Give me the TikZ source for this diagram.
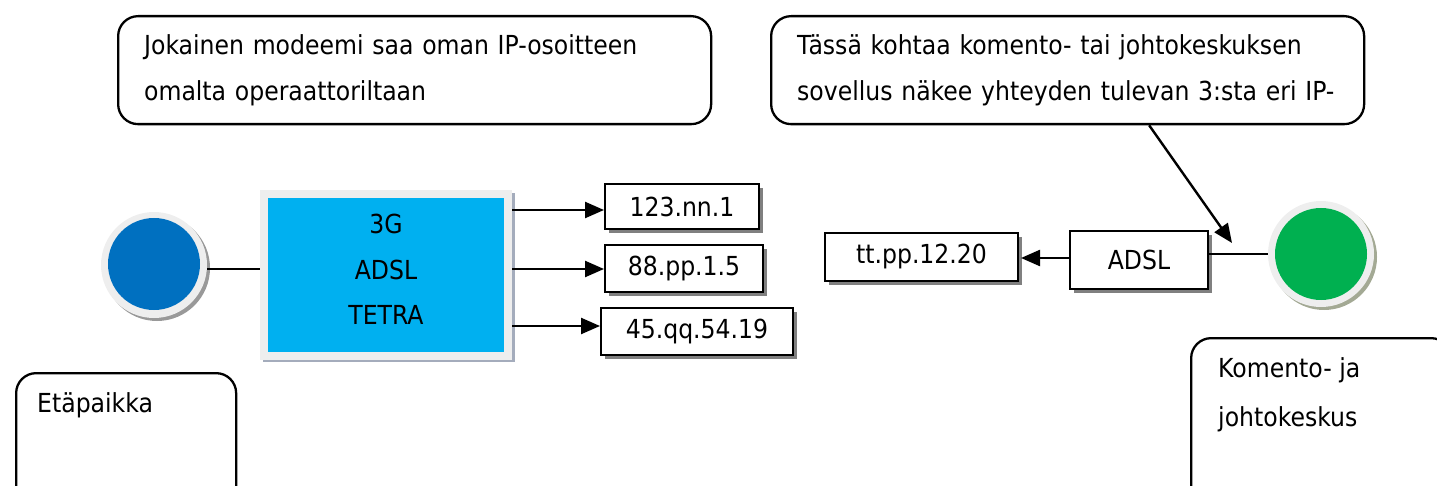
\documentclass[tikz,border=0pt]{standalone}
\usepackage{fontspec}
\setmainfont{DejaVu Sans Condensed}
\usetikzlibrary{arrows.meta,positioning}

\definecolor{siteblue}{HTML}{0070C0}
\definecolor{modemblue}{HTML}{00B0F0}
\definecolor{hqgreen}{HTML}{00B050}
\definecolor{ringgray}{HTML}{EEEEEE}
\definecolor{shadowgray}{HTML}{808080}
\definecolor{frameshadow}{HTML}{A4ACBC}
\definecolor{greenshadow}{HTML}{A3A994}

\tikzset{
  txt/.style={font=\fontsize{26.2}{46}\selectfont},
  callout/.style={draw, line width=2.3pt, rounded corners=20pt, fill=white,
    txt, align=left, inner xsep=26pt, inner ysep=0pt, anchor=north west},
  ipbox/.style={draw, line width=2pt, fill=white, txt, inner sep=0pt,
    anchor=north west},
  boxshadow/.style={fill=shadowgray, draw=none, anchor=north west, inner sep=0pt},
  arr/.style={line width=2.4pt, -{Triangle[length=19pt,width=16pt]}},
  wire/.style={line width=1.8pt},
  plain/.style={txt, inner sep=0pt},
}

\begin{document}
\begin{tikzpicture}[x=1pt,y=-1pt]
\useasboundingbox (0,0) rectangle (1437,486);
\clip (0,0) rectangle (1437,486);

% --- callouts at the top ---
\node[callout, text width=541pt, minimum width=593pt, minimum height=108pt]
  (callA) at (117,15) {Jokainen modeemi saa oman IP-osoitteen\\omalta operaattoriltaan};
\node[callout, text width=541pt, minimum width=593pt, minimum height=108pt]
  (callB) at (770,15) {Tässä kohtaa komento- tai johtokeskuksen\\sovellus näkee yhteyden tulevan 3:sta eri IP-};

% --- remote site (blue circle) ---
\fill[black!40] (157,268) circle (53pt);
\node[circle, fill=ringgray, minimum size=106pt, inner sep=0pt] (siteRing) at (154,265) {};
\node[circle, fill=siteblue, minimum size=92pt, inner sep=0pt] (site) at (154,264) {};

% --- modem box ---
\fill[frameshadow] (263,193) rectangle (515,362);
\node[fill=ringgray, minimum width=252pt, minimum height=170pt, inner sep=0pt,
  anchor=north west] (modems) at (260,190) {};
\fill[modemblue] (268,198) rectangle (504,352);
\node[plain] (m3g) at (386,224) {3G};
\node[plain] (madsl) at (386,270) {ADSL};
\node[plain] (mtetra) at (386,315) {TETRA};

\draw[wire] (siteRing.east |- 0,269) -- (modems.west |- 0,269);

% --- operator addresses ---
\node[boxshadow, minimum width=154pt, minimum height=45pt] (ip1s) at (609,188) {};
\node[ipbox, minimum width=154pt, minimum height=45pt] (ip1) at (604,183) {123.nn.1};
\node[boxshadow, minimum width=158pt, minimum height=47pt] (ip2s) at (609,249) {};
\node[ipbox, minimum width=158pt, minimum height=47pt] (ip2) at (604,244) {88.pp.1.5};
\node[boxshadow, minimum width=192pt, minimum height=47pt] (ip3s) at (605,312) {};
\node[ipbox, minimum width=192pt, minimum height=47pt] (ip3) at (600,307) {45.qq.54.19};

\coordinate (r1) at (0,210);
\coordinate (r2) at (0,269);
\coordinate (r3) at (0,326);
\draw[arr] (modems.east |- r1) -- (ip1.west |- r1);
\draw[arr] (modems.east |- r2) -- (ip2.west |- r2);
\draw[arr] (modems.east |- r3) -- (ip3.west |- r3);

% --- headquarters side ---
\node[boxshadow, minimum width=193pt, minimum height=48pt] (tts) at (829,237) {};
\node[ipbox, minimum width=193pt, minimum height=48pt] (tt) at (824,232) {tt.pp.12.20};
\node[boxshadow, minimum width=138pt, minimum height=58pt] (hqadsls) at (1074,235) {};
\node[ipbox, minimum width=138pt, minimum height=58pt] (hqadsl) at (1069,230) {ADSL};

\coordinate (r4) at (0,258);
\draw[arr] (hqadsl.west |- r4) -- ([xshift=2pt]tt.east |- r4);

\fill[greenshadow] (1324,257) circle (53pt);
\node[circle, fill=ringgray, minimum size=106pt, inner sep=0pt] (hqRing) at (1321,254) {};
\node[circle, fill=hqgreen, minimum size=92pt, inner sep=0pt] (hq) at (1321,254) {};

\coordinate (r5) at (0,254);
\draw[wire] (hqadsl.east |- r5) -- (hqRing.west |- r5);

\coordinate (calltip) at (1232,243);
\draw[arr] ([xshift=81.5pt]callB.south) -- (calltip);

% --- place labels ---
\node[draw, line width=2.3pt, rounded corners=20pt, minimum width=220pt,
  minimum height=150pt, anchor=north west] (etabox) at (15,372) {};
\node[plain, anchor=west] (etatext) at (37,405) {Etäpaikka};

\node[draw, line width=2.3pt, rounded corners=20pt, minimum width=260pt,
  minimum height=170pt, anchor=north west] (hqbox) at (1190,337) {};
\node[plain, anchor=west] (hqtext1) at (1218,370) {Komento- ja};
\node[plain, anchor=west] (hqtext2) at (1218,419) {johtokeskus};
\end{tikzpicture}
\end{document}
